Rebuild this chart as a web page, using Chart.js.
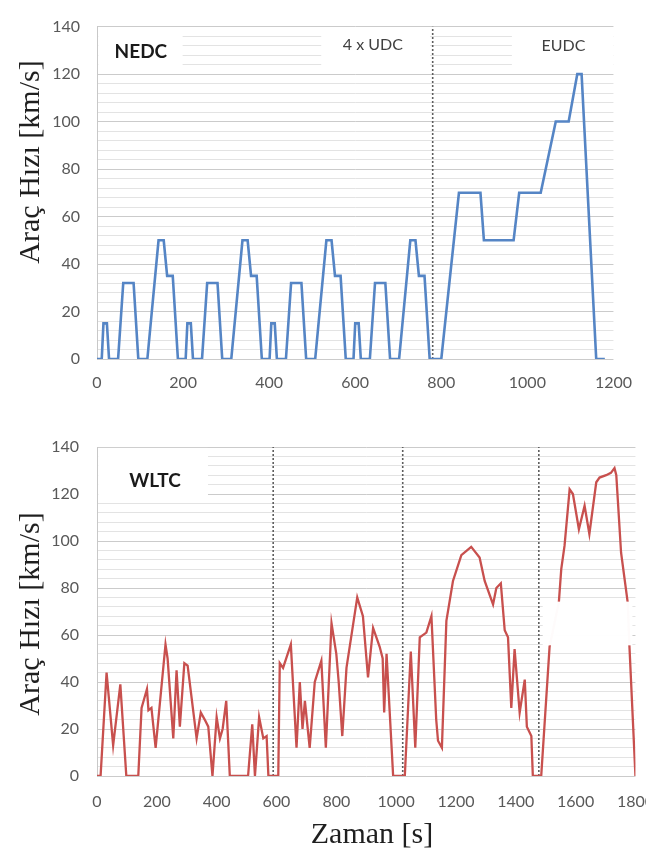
<!DOCTYPE html>
<html>
<head>
<meta charset="utf-8">
<script src="https://cdn.jsdelivr.net/npm/chart.js@4.4.1/dist/chart.umd.min.js"></script>
<style>
  html, body { margin: 0; padding: 0; background: #fff; }
  body { width: 646px; height: 854px; overflow: hidden; position: relative; }
  .wrap { position: absolute; left: 0; }
  #topWrap { top: 0; width: 646px; height: 400px; }
  #botWrap { top: 400px; width: 670px; height: 454px; }
  .ytitle, .xtitle {
    position: absolute;
    font-family: "Liberation Serif", "Times New Roman", serif;
    font-size: 30px;
    color: #1f1f1f;
    white-space: nowrap;
  }
  .ytitle { transform: translate(-50%, -50%) rotate(-90deg); }
  .xtitle { transform: translate(-50%, -50%); }
</style>
</head>
<body>
<div class="wrap" id="topWrap"><canvas id="nedcChart"></canvas></div>
<div class="wrap" id="botWrap"><canvas id="wltcChart"></canvas></div>
<div class="ytitle" style="left:29px; top:162px;">Araç Hızı [km/s]</div>
<div class="ytitle" style="left:29px; top:614px;">Araç Hızı [km/s]</div>
<div class="xtitle" style="left:372px; top:833px;">Zaman [s]</div>

<script>
// === NEDC: 4 x UDC + EUDC ===
const nedcTime = [
	0, 11, 15, 23, 28, 49, 61, 85, 96, 117, 143, 155, 163, 176, 188,
	195, 206, 210, 218, 223, 244, 256, 280, 291, 312, 338, 350, 358, 371, 383,
	390, 401, 405, 413, 418, 439, 451, 475, 486, 507, 533, 545, 553, 566, 578,
	585, 596, 600, 608, 613, 634, 646, 670, 681, 702, 728, 740, 748, 761, 773,
	780, 800, 841, 891, 899, 968, 981, 1031, 1066, 1096, 1116, 1126, 1160, 1180
];
const nedcSpeed = [
	0, 0, 15, 15, 0, 0, 32, 32, 0, 0, 50, 50, 35, 35, 0,
	0, 0, 15, 15, 0, 0, 32, 32, 0, 0, 50, 50, 35, 35, 0,
	0, 0, 15, 15, 0, 0, 32, 32, 0, 0, 50, 50, 35, 35, 0,
	0, 0, 15, 15, 0, 0, 32, 32, 0, 0, 50, 50, 35, 35, 0,
	0, 0, 70, 70, 50, 50, 70, 70, 100, 100, 120, 120, 0, 0
];
const nedcBoundary = [780];

// === WLTC ===
const wltcTime = [
	0, 12, 32, 54, 78, 98, 138, 149, 158, 167, 172, 182, 196, 229, 236,
	255, 266, 277, 292, 303, 333, 347, 360, 372, 386, 400, 411, 420, 432, 444,
	505, 519, 528, 542, 556, 567, 573, 606, 611, 622, 648, 667, 678, 687, 695,
	711, 728, 750, 765, 784, 800, 808, 820, 834, 870, 889, 906, 923, 945, 955,
	960, 968, 990, 1029, 1049, 1064, 1079, 1101, 1118, 1134, 1140, 1153, 1168, 1190, 1218,
	1251, 1279, 1296, 1324, 1335, 1350, 1363, 1374, 1385, 1396, 1413, 1430, 1437, 1452, 1457,
	1485, 1513, 1544, 1552, 1563, 1580, 1591, 1611, 1630, 1646, 1669, 1680, 1702, 1718, 1730,
	1736, 1752, 1774, 1780, 1800
];
const wltcSpeed = [
	0, 0, 44, 13, 39, 0, 0, 29, 33, 37, 28, 29, 12, 56, 50,
	16, 45, 21, 48, 47, 16, 27, 24, 21, 0, 25, 16, 20, 32, 0,
	0, 22, 0, 25, 16, 17, 0, 0, 48, 46, 56, 12, 40, 20, 32,
	12, 40, 49, 12, 65, 52, 40, 17, 46, 76, 68, 42, 63, 55, 50,
	27, 52, 0, 0, 53, 12, 59, 61, 68, 24, 15, 12, 66, 83, 94,
	97.5, 93, 83, 73, 80, 82, 62, 59, 29, 54, 27, 41, 21, 17, 0,
	0, 55, 74, 88, 98, 122, 120, 105, 115, 103, 125, 127, 128, 129, 131,
	128, 95, 74, 55, 0
];
const wltcBoundary = [589, 1022, 1477];

// === Eksen ===
const speedLabels = [0, 20, 40, 60, 80, 100, 120, 140];
const timeStep = 200;

function toPoints(times, speeds) {
	return times.map((t, i) => ({ x: t, y: speeds[i] }));
}

function boundarySets(list) {
	return list.map((b) => ({
		data: [{ x: b, y: 0 }, { x: b, y: 140 }],
		borderColor: "#5e5e5e",
		borderWidth: 1.6,
		borderDash: [2, 2],
		pointRadius: 0,
		showLine: true,
	}));
}

// kotak putih (label / penutup), item dalam satuan data
function boxPlugin(items) {
	return {
		id: "boxes",
		afterDatasetsDraw(chart) {
			const { ctx, scales } = chart;
			items.forEach((b) => {
				const l = scales.x.getPixelForValue(b.x0);
				const r = scales.x.getPixelForValue(b.x1);
				const t = scales.y.getPixelForValue(b.y1);
				const bt = scales.y.getPixelForValue(b.y0);
				ctx.save();
				ctx.fillStyle = b.bg;
				ctx.fillRect(l, t, r - l, bt - t);
				if (b.text) {
					ctx.font = b.font;
					ctx.fillStyle = b.color;
					ctx.textAlign = "center";
					ctx.textBaseline = "middle";
					ctx.fillText(b.text, scales.x.getPixelForValue(b.tx), scales.y.getPixelForValue(b.ty));
				}
				ctx.restore();
			});
		},
	};
}

Chart.defaults.font.family = "Lato, 'Open Sans', sans-serif";
Chart.defaults.font.size = 16;
Chart.defaults.color = "#595959";

function yScale(pad) {
	return {
		min: 0,
		max: 140,
		ticks: {
			stepSize: 4,
			autoSkip: false,
			padding: pad,
			callback: (v) => (speedLabels.includes(v) ? String(v) : ""),
		},
		grid: {
			drawTicks: false,
			color: (c) => (c.tick.value % 20 === 0 ? "#cbcbcb" : "#e3e3e3"),
			lineWidth: 1,
		},
		border: { display: true, color: "#c8c8c8", width: 1 },
		afterFit: (s) => { s.width = 97; },
	};
}

function xScale(max, pad, h) {
	return {
		type: "linear",
		min: 0,
		max: max,
		ticks: { stepSize: timeStep, padding: pad, autoSkip: false, callback: (v) => String(v) },
		grid: { display: false, drawTicks: false },
		border: { display: false },
		afterFit: (s) => { s.height = h; },
	};
}

// === NEDC chart ===
new Chart(document.getElementById("nedcChart"), {
	type: "scatter",
	data: {
		datasets: [
			{
				data: toPoints(nedcTime, nedcSpeed),
				borderColor: "#5585c5",
				borderWidth: 2.6,
				pointRadius: 0,
				showLine: true,
			},
			...boundarySets(nedcBoundary),
		],
	},
	options: {
		responsive: true,
		maintainAspectRatio: false,
		animation: false,
		layout: { padding: { top: 17, right: 19, bottom: 0, left: 0 } },
		plugins: { legend: { display: false }, tooltip: { enabled: false } },
		scales: {
			x: xScale(1200, 14, 41),
			y: yScale(17),
		},
	},
	plugins: [boxPlugin([
		{ x0: 3, x1: 199, y0: 121, y1: 139.6, bg: "#ffffff", text: "NEDC", tx: 102, ty: 129.3, font: "bold 19px Lato", color: "#1a1a1a" },
		{ x0: 521, x1: 774, y0: 121, y1: 139.6, bg: "#ffffff", text: "4 x UDC", tx: 641, ty: 132.2, font: "16px Lato", color: "#404040" },
		{ x0: 964, x1: 1200, y0: 122, y1: 139.6, bg: "#ffffff", text: "EUDC", tx: 1084, ty: 131.8, font: "16px Lato", color: "#404040" },
	])],
});

// === WLTC chart ===
new Chart(document.getElementById("wltcChart"), {
	type: "scatter",
	data: {
		datasets: [
			{
				data: toPoints(wltcTime, wltcSpeed),
				borderColor: "#c8504e",
				borderWidth: 2.3,
				pointRadius: 0,
				showLine: true,
			},
			...boundarySets(wltcBoundary),
		],
	},
	options: {
		responsive: true,
		maintainAspectRatio: false,
		animation: false,
		layout: { padding: { top: 47, right: 34, bottom: 0, left: 0 } },
		plugins: { legend: { display: false }, tooltip: { enabled: false } },
		scales: {
			x: xScale(1800, 16, 78),
			y: yScale(18),
		},
	},
	plugins: [boxPlugin([
		{ x0: 4, x1: 371, y0: 118, y1: 139.6, bg: "#ffffff", text: "WLTC", tx: 194, ty: 125.5, font: "bold 19px Lato", color: "#1a1a1a" },
		{ x0: 1490, x1: 1790, y0: 55.6, y1: 74.2, bg: "rgba(255,255,255,0.98)" },
	])],
});
</script>
</body>
</html>
